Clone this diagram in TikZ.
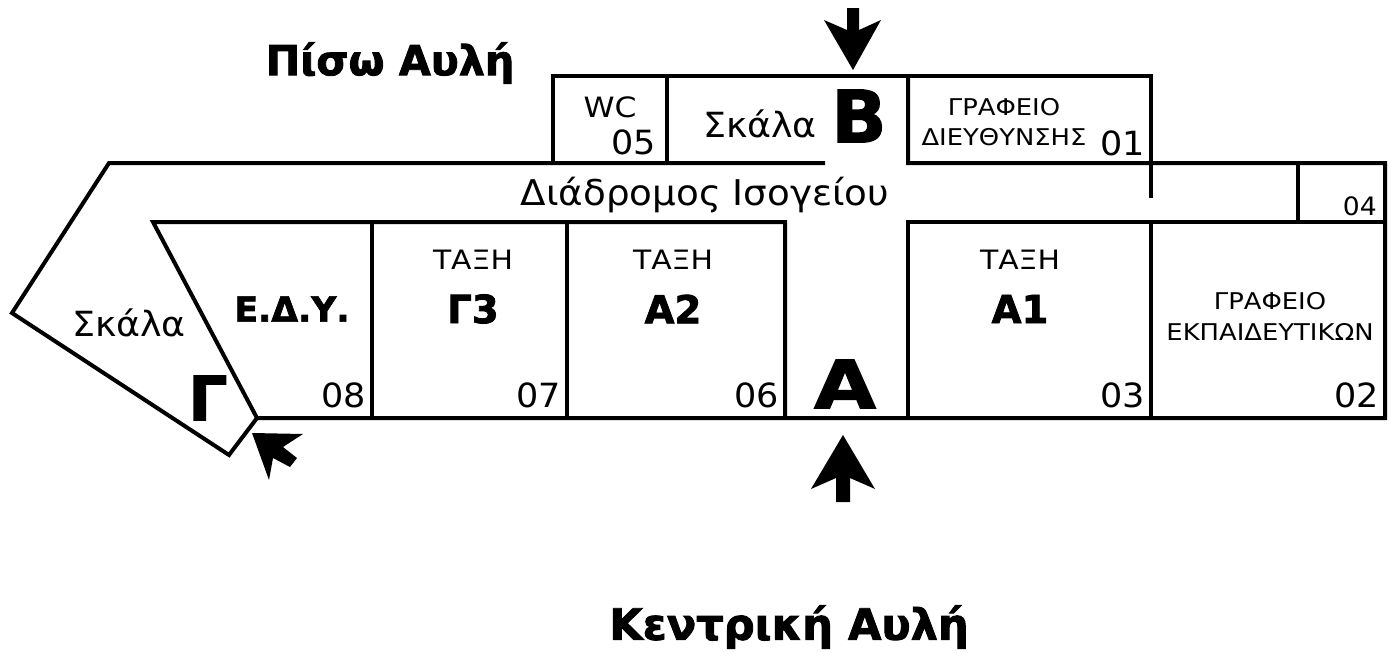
\documentclass[tikz,border=0pt]{standalone}
\usepackage{fontspec}
\setmainfont{DejaVu Sans}[FakeStretch=1.05]
\newfontfamily\wider{DejaVu Sans}[FakeStretch=1.12]
\newfontfamily\heavy{DejaVu Sans Bold}[FakeStretch=1.0,FakeBold=2]
\newfontfamily\heavywide{DejaVu Sans Bold}[FakeStretch=1.2,FakeBold=2]
\newcommand{\fs}[1]{\fontsize{#1}{#1}\selectfont}
\begin{document}
\begin{tikzpicture}[x=0.75pt,y=-0.75pt,
  wall/.style={draw=black,line width=3pt,line cap=butt,line join=miter},
  lbl/.style={inner sep=0pt,align=center,text=black},
  num/.style={lbl,font=\fs{25}},
  room/.style={lbl,font=\wider\fs{20}},
  small/.style={lbl,font=\wider\fs{17.3}},
  big/.style={lbl,font=\heavy\fs{29}},
  huge/.style={lbl,font=\heavy\fs{46}},
  title/.style={lbl,font=\heavy\fs{31}},
  stair/.style={lbl,font=\fs{26}},
  arrowshape/.style={fill=black,draw=none}]
\useasboundingbox (0,0) rectangle (1390,653);
% named corners of the plan
\coordinate (a1) at (109,163);
\coordinate (a2) at (12,313);
\coordinate (a3) at (229,455);
\coordinate (a4) at (257,418);
\coordinate (a5) at (153,222);
% walls
\draw[wall] (825,163) -- (a1) -- (a2) -- (a3) -- (a4) -- (1385,418) -- (1385,163) -- (908,163) -- (908,76);
\draw[wall] (a4) -- (a5) -- (785,222) -- (785,418);
\draw[wall] (553,163) -- (553,76) -- (1151,76) -- (1151,198);
\draw[wall] (667,76) -- (667,163);
\draw[wall] (908,418) -- (908,222) -- (1385,222);
\draw[wall] (372,222) -- (372,418);
\draw[wall] (567,222) -- (567,418);
\draw[wall] (1151,222) -- (1151,418);
\draw[wall] (1298,163) -- (1298,222);
% arrows
\fill[arrowshape] (847,8) -- (859,8) -- (859,30) -- (881,20) -- (853,70) -- (824,20) -- (847,30) -- cycle;
\fill[arrowshape] (836,502) -- (850,502) -- (850,478) -- (875,489) -- (843,435) -- (811,489) -- (836,478) -- cycle;
\fill[arrowshape] (252,433) -- (303,434) -- (283,447) -- (297,458) -- (290,467) -- (273,458) -- (269,480) -- cycle;
% labels
\node[title] (t1) at (390,63) {Πίσω Αυλή};
\node[title,font=\heavy\fs{32.4}] (t2) at (789,627) {Κεντρική Αυλή};
\node[stair] (s1) at (760,124) {Σκάλα};
\node[lbl,font=\heavy\fs{54}] (bB) at (859,116) {Β};
\node[room,font=\wider\fs{21}] (wc) at (610,107) {WC};
\node[num,anchor=east] (n5) at (656,142) {05};
\node[small] (g1) at (1004,107) {ΓΡΑΦΕΙΟ};
\node[small] (g2) at (1004,137) {ΔΙΕΥΘΥΝΣΗΣ};
\node[num,anchor=east] (n1) at (1145,143) {01};
\node[stair,font=\fs{26.6}] (cor) at (705,195) {Διάδρομος Ισογείου};
\node[lbl,font=\fs{19},anchor=east] (n4) at (1377,206) {04};
\node[stair] (s2) at (129,323) {Σκάλα};
\node[huge] (bG) at (208,398) {Γ};
\node[big,font=\heavy\fs{26}] (edy) at (292,309) {Ε.Δ.Υ.};
\node[num,anchor=east] (n8) at (366,395) {08};
\node[room] (t3) at (473,260) {ΤΑΞΗ};
\node[big] (g3) at (473,309) {Γ3};
\node[num,anchor=east] (n7) at (561,395) {07};
\node[room] (t2a) at (673,260) {ΤΑΞΗ};
\node[big] (a2t) at (673,309) {Α2};
\node[num,anchor=east] (n6) at (779,395) {06};
\node[lbl,font=\heavywide\fs{50}] (bA) at (845,384) {Α};
\node[room] (t1a) at (1020,260) {ΤΑΞΗ};
\node[big] (a1t) at (1020,309) {Α1};
\node[num,anchor=east] (n3) at (1145,395) {03};
\node[small] (g3a) at (1270,301) {ΓΡΑΦΕΙΟ};
\node[small] (g3b) at (1270,332) {ΕΚΠΑΙΔΕΥΤΙΚΩΝ};
\node[num,anchor=east] (n2) at (1379,395) {02};
\end{tikzpicture}
\end{document}
